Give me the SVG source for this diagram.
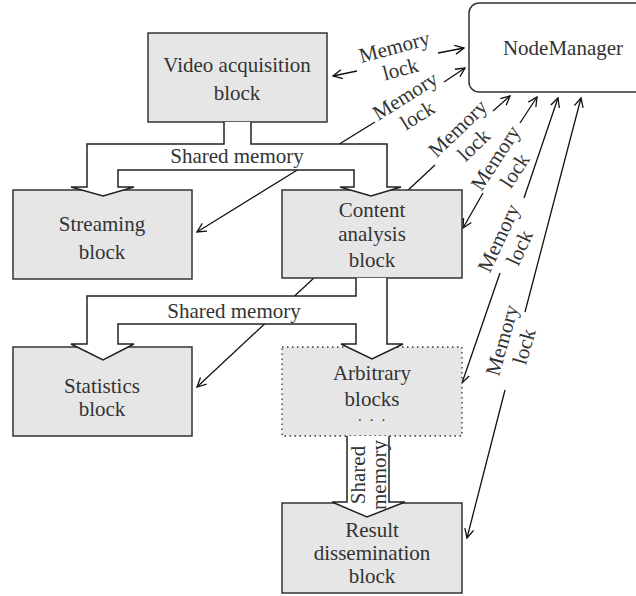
<svg xmlns="http://www.w3.org/2000/svg" width="636" height="596" viewBox="0 0 636 596">
<style>
text{font-family:"Liberation Serif","Times New Roman",serif;font-size:21px;fill:#333;text-anchor:middle}
.box{fill:#e6e6e6;stroke:#333;stroke-width:1.5}
.dot{fill:#e6e6e6;stroke:#333;stroke-width:1.3;stroke-dasharray:1.5 3.5}
.nm{fill:#fff;stroke:#333;stroke-width:1.5}
.ml{fill:none;stroke:#111;stroke-width:1.3;marker-start:url(#ah);marker-end:url(#ah)}
.sm{fill:#fff;stroke:#222;stroke-width:1.5;stroke-linejoin:miter}
</style>
<defs>
<marker id="ah" markerUnits="userSpaceOnUse" viewBox="-10 -6 12 12" refX="0" refY="0" markerWidth="12" markerHeight="12" orient="auto-start-reverse">
<path d="M-9,-4.5 L0,0 L-9,4.5" fill="none" stroke="#111" stroke-width="1.3"/>
</marker>
</defs>
<rect width="636" height="596" fill="#fff"/>
<g id="connectors">
<path class="ml" d="M333,76 L357,71 M438,53 L464,48"/>
<path class="ml" d="M197,232 L375,122 M444,82 L465,68"/>
<path class="ml" d="M197,387 L435,165 M493,111 L510,96"/>
<path class="ml" d="M463,228 L483,193 M520,123 L537,97"/>
<path class="ml" d="M462,383 L500,273 M524,198 L558,98"/>
<path class="ml" d="M467,538 L505,390 M525,312 L581,98"/>
<g transform="translate(397.5,58.5) rotate(-15)"><text y="-5">Memory</text><text y="18">lock</text></g>
<g transform="translate(411.5,106) rotate(-32)"><text y="-5">Memory</text><text y="18">lock</text></g>
<g transform="translate(466,137) rotate(-44)"><text y="-5">Memory</text><text y="18">lock</text></g>
<g transform="translate(505.5,164.5) rotate(-57)"><text y="-5">Memory</text><text y="18">lock</text></g>
<g transform="translate(509.5,243) rotate(-65)"><text y="-5">Memory</text><text y="18">lock</text></g>
<g transform="translate(513.5,343.5) rotate(-74)"><text y="-5">Memory</text><text y="18">lock</text></g>
</g>
<g id="nodemanager"><rect class="nm" x="469" y="3" width="180" height="89" rx="10"/><text x="563" y="55">NodeManager</text></g>
<g id="video"><rect class="box" x="148" y="33" width="179" height="89"/><text x="237" y="72">Video acquisition</text><text x="237" y="100">block</text></g>
<g id="streaming"><rect class="box" x="13" y="190" width="179" height="89"/><text x="102" y="231">Streaming</text><text x="102" y="259">block</text></g>
<g id="content"><rect class="box" x="282" y="190" width="180" height="88"/><text x="372" y="217">Content</text><text x="372" y="241">analysis</text><text x="372" y="267">block</text></g>
<g id="statistics"><rect class="box" x="13" y="347" width="179" height="89"/><text x="102" y="393">Statistics</text><text x="102" y="416">block</text></g>
<g id="arbitrary"><rect class="dot" x="282" y="347" width="180" height="89"/><text x="372" y="380">Arbitrary</text><text><tspan x="372" y="406">blocks</tspan><tspan x="376" y="421" font-size="11" font-weight="bold" letter-spacing="9">...</tspan></text></g>
<g id="result"><rect class="box" x="282" y="503" width="180" height="90"/><text x="372" y="537">Result</text><text x="372" y="560">dissemination</text><text x="372" y="583">block</text></g>
<g id="shared-memory">
<path class="sm" d="M224,122 L224,144 L87,144 L87,187 L71,187 L103,196 L134,187 L118,187 L118,170 L354,170 L354,187 L340,187 L371,196 L401,187 L387,187 L387,144 L251,144 L251,122"/>
<text x="237" y="163">Shared memory</text>
<path class="sm" d="M356,278 L356,296 L87,296 L87,344 L71,344 L103,360 L134,344 L118,344 L118,324 L356,324 L356,344 L341,344 L372,359 L403,344 L387,344 L387,278"/>
<text x="234" y="318">Shared memory</text>
<path class="sm" d="M347,436 L347,502 L332,502 L367,517 L405,502 L389,502 L389,436"/>
<g transform="translate(365,475) rotate(-90)"><text y="0">Shared</text><text y="21">memory</text></g>
</g>
</svg>
